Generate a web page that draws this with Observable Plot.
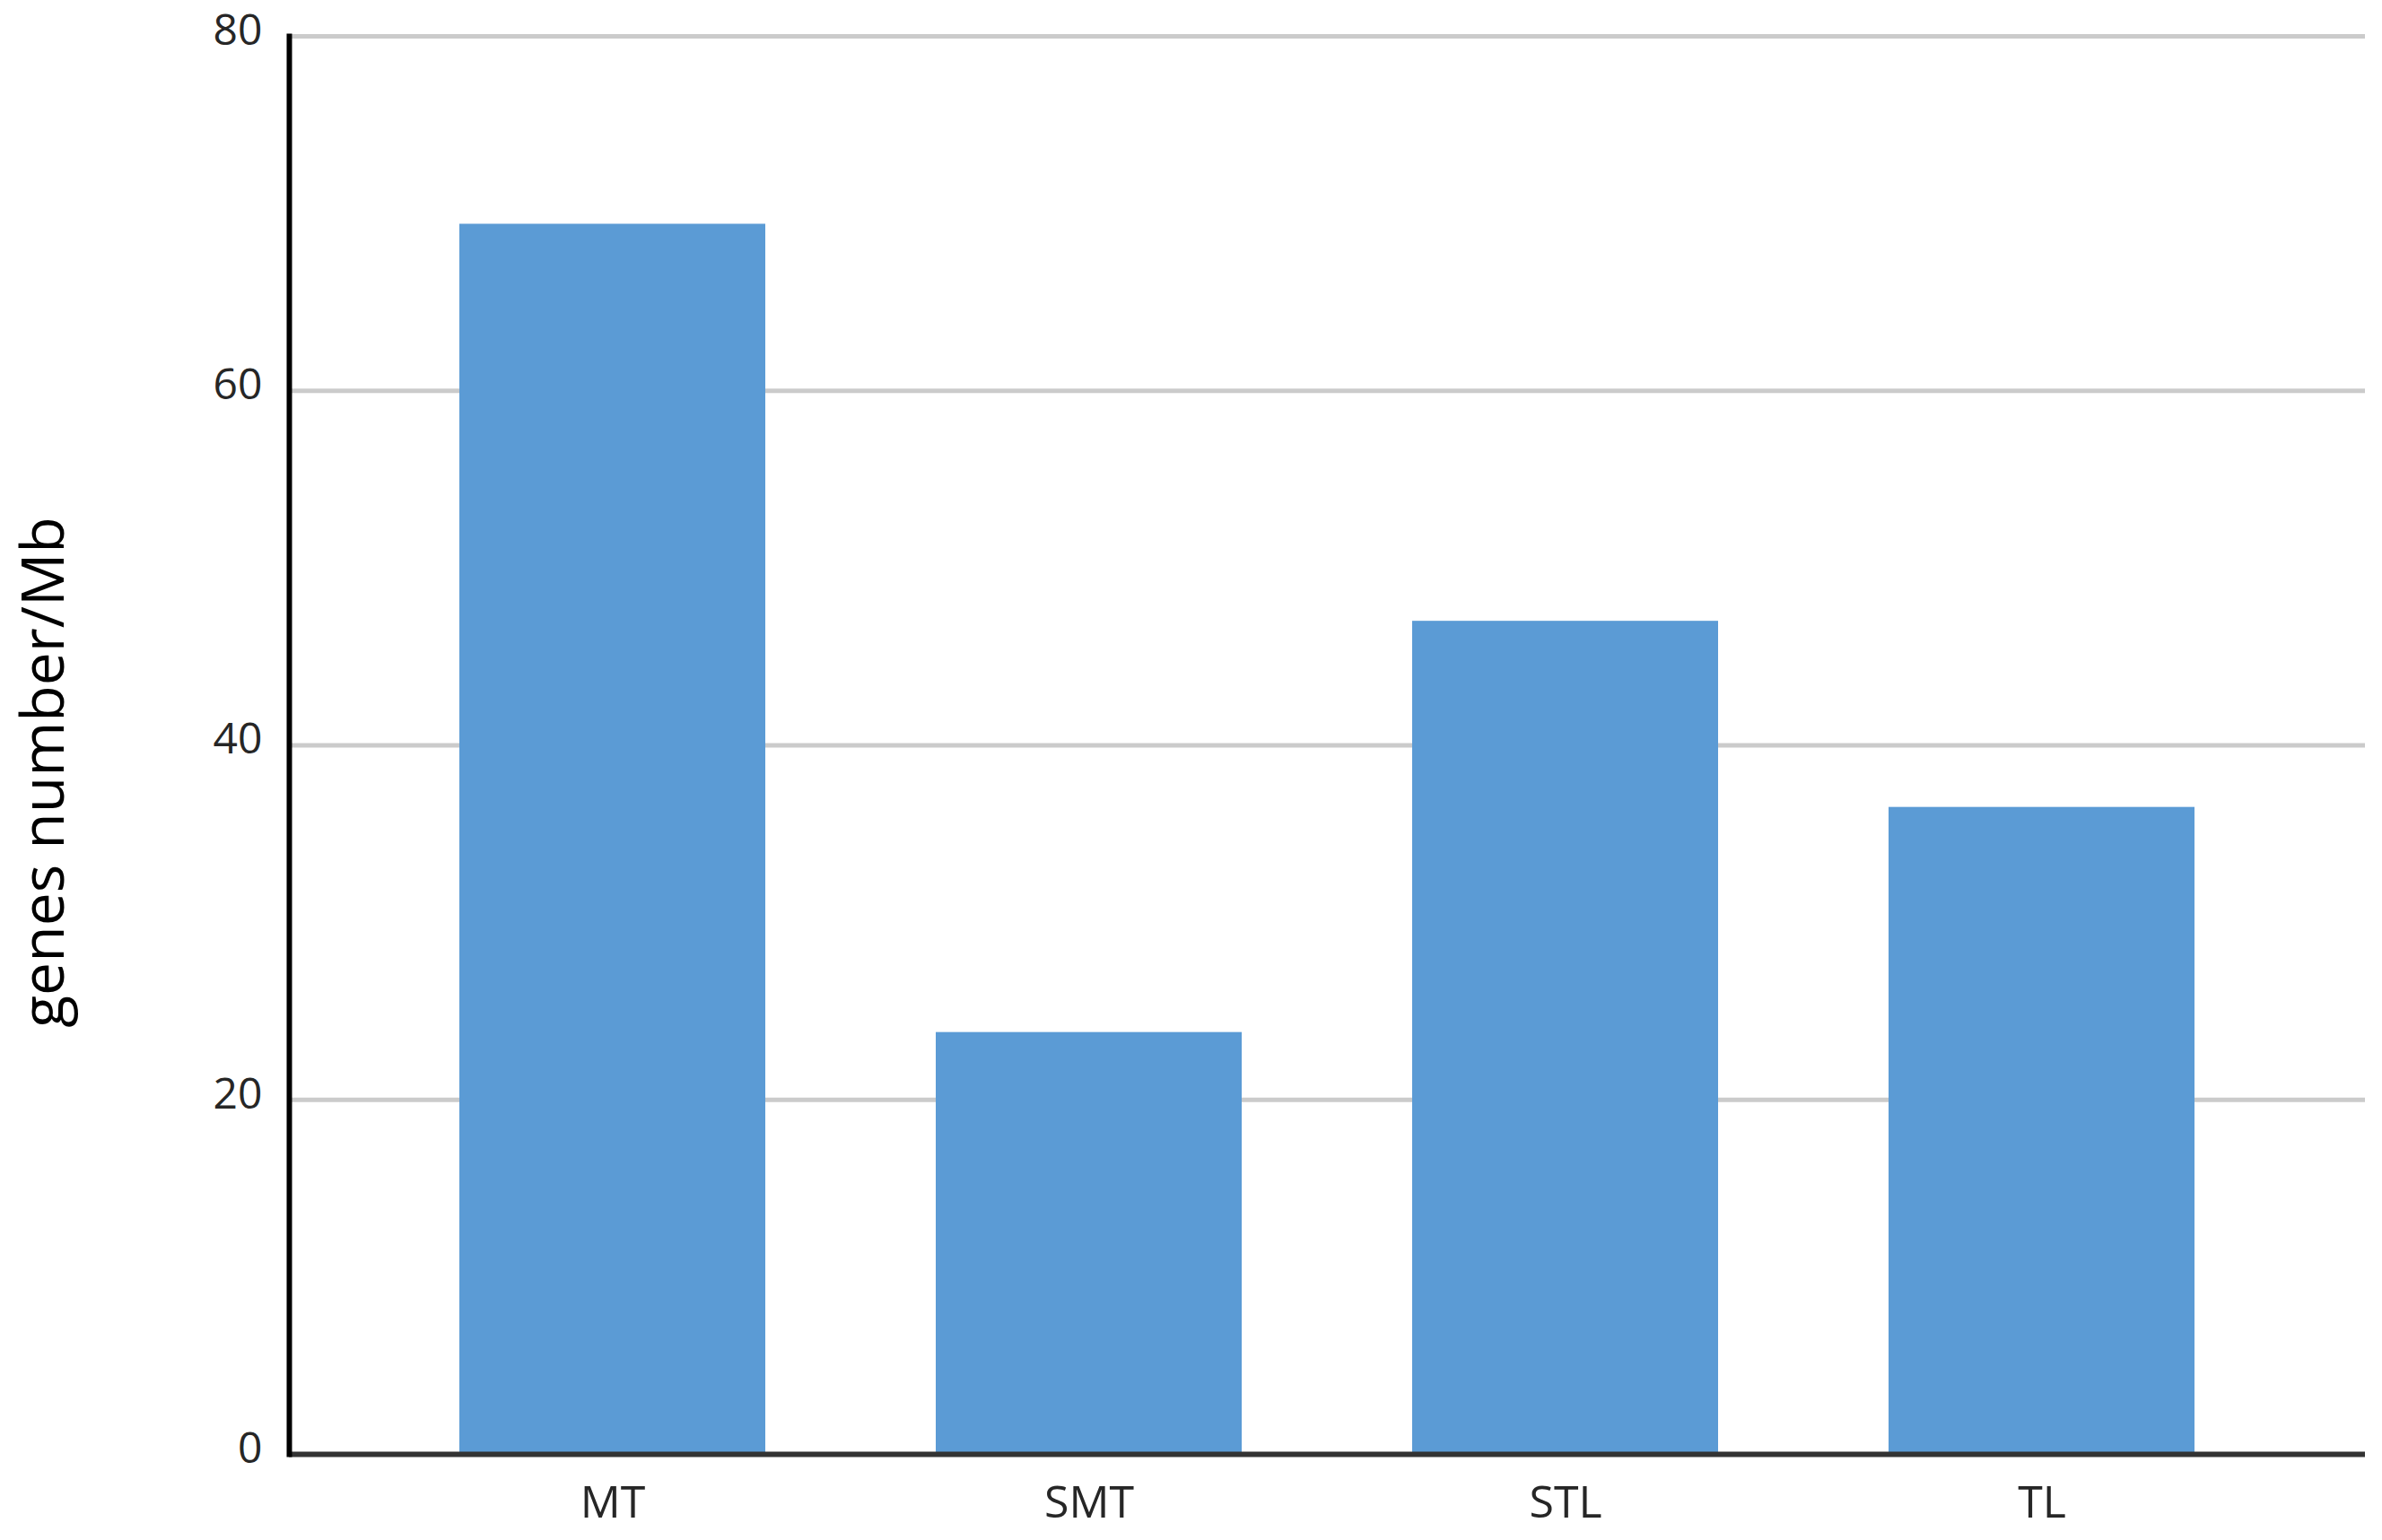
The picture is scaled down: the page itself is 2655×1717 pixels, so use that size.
<!DOCTYPE html>
<html>
<head>
<meta charset="utf-8">
<script src="https://cdn.jsdelivr.net/npm/d3@7"></script>
<script src="https://cdn.jsdelivr.net/npm/@observablehq/plot@0.6"></script>
<style>
  html, body { margin: 0; padding: 0; background: #fff; }
</style>
</head>
<body>
<div id="chart"></div>
<script>
const categories = ["MT", "SMT", "STL", "TL"];
const values = [69.4, 23.8, 47.0, 36.5];
const yTicks = [0, 20, 40, 60, 80];
const yLabel = "genes number/Mb";

const data = categories.map((c, i) => ({category: c, value: values[i]}));

const chart = Plot.plot({
  width: 2655,
  height: 1717,
  marginLeft: 322,
  marginRight: 19,
  marginTop: 40,
  marginBottom: 96,
  style: {fontFamily: "'Open Sans', sans-serif", background: "#fff"},
  x: {domain: categories, padding: 0.357, label: null},
  y: {domain: [0, 80], ticks: yTicks, label: null},
  marks: [
    Plot.gridY(yTicks, {stroke: "#cbcbcb", strokeOpacity: 1, strokeWidth: 5}),
    Plot.barY(data, {x: "category", y: "value", fill: "#5B9BD5"}),
    Plot.axisY({ticks: yTicks, tickSize: 0, tickPadding: 30, fontSize: 48, dy: -6, fill: "#262626", label: null}),
    Plot.axisX({tickSize: 0, tickPadding: 35, fontSize: 50, fill: "#262626", label: null}),
    Plot.ruleY([0], {stroke: "#333", strokeWidth: 6}),
    Plot.frame({anchor: "left", stroke: "#000", strokeWidth: 6}),
    Plot.text([yLabel], {frameAnchor: "left", rotate: -90, textAnchor: "middle", dx: -273, dy: 30, fontSize: 66, fontWeight: "normal", fill: "#000"})
  ]
});
document.getElementById("chart").appendChild(chart);
</script>
</body>
</html>
